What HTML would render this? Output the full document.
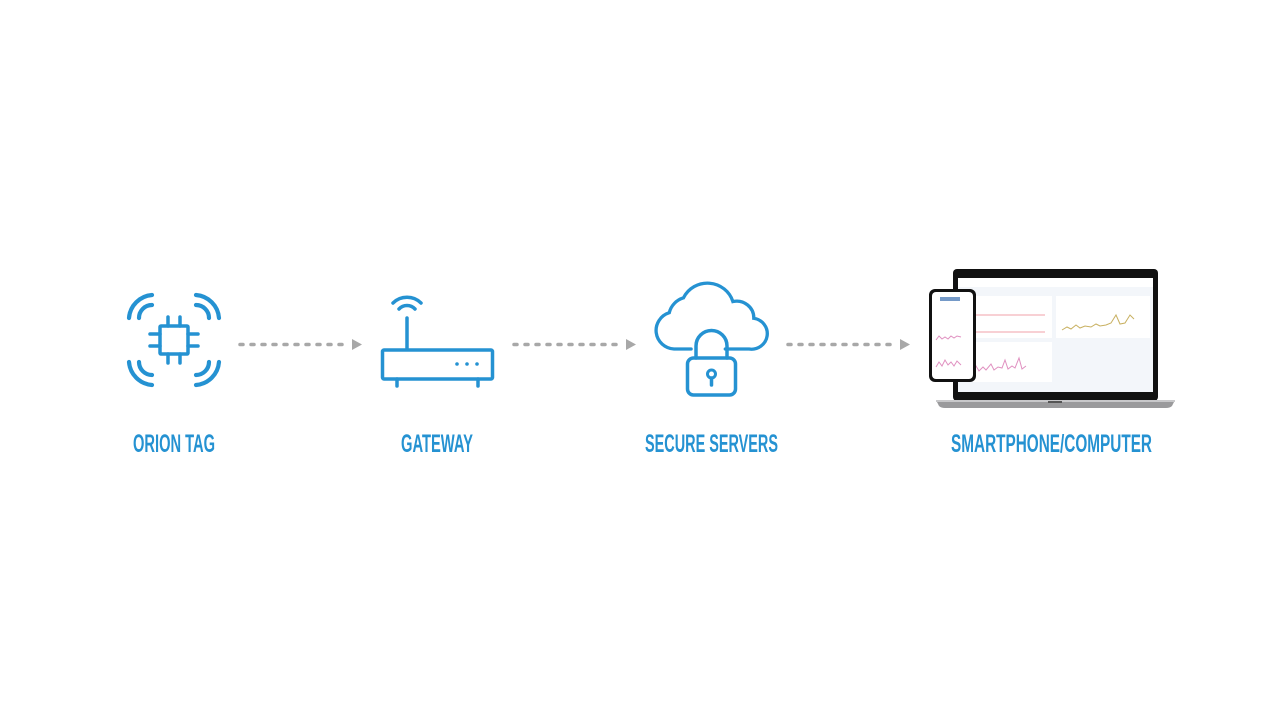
<!DOCTYPE html>
<html><head><meta charset="utf-8"><style>
html,body{margin:0;padding:0;background:#fff;width:1280px;height:720px;overflow:hidden}
text{font-family:"Liberation Sans Narrow","Liberation Sans",sans-serif;font-weight:bold;fill:#2592d2}
</style></head><body>
<svg width="1280" height="720" viewBox="0 0 1280 720" xmlns="http://www.w3.org/2000/svg">
<g fill="none" stroke="#2592d2" stroke-width="3.5" stroke-linecap="round">
  <!-- chip -->
  <rect x="160" y="326" width="28" height="28" rx="1"/>
  <path d="M168 326v-9M180 326v-9M168 354v9M180 354v9M160 334h-10M160 346h-10M188 334h10M188 346h10"/>
  <!-- arcs -->
  <g stroke-width="4.2">
  <path d="M129 318a25 25 0 0 1 23 -23M139 318a13 13 0 0 1 13 -13"/>
  <path d="M219 318a25 25 0 0 0 -23 -23M209 318a13 13 0 0 0 -13 -13"/>
  <path d="M129 362a25 25 0 0 0 23 23M139 362a13 13 0 0 0 13 13"/>
  <path d="M219 362a25 25 0 0 1 -23 23M209 362a13 13 0 0 1 -13 13"/>
  </g>
  <!-- router -->
  <rect x="382.5" y="350" width="110" height="29" rx="1.5"/>
  <path d="M407 349v-31M397 379v7M478 379v7"/>
  <path d="M393 303a20 20 0 0 1 28 0M399 309a11 11 0 0 1 16 0"/>
  <!-- cloud -->
  <path transform="translate(655,349) scale(.95,.93) translate(-655,-349)" d="M693 349h-18a20 20 0 0 1 -5 -39a22 22 0 0 1 15 -16a28 28 0 0 1 52 4a18 18 0 0 1 22 18a14 14 0 0 1 -5 33h-25"/>
  <rect x="687.5" y="358" width="48" height="37" rx="6"/>
  <path d="M696 358v-12a15.5 15.5 0 0 1 31 0v12"/>
  <circle cx="711.5" cy="374" r="4" stroke-width="3"/>
  <path d="M711.5 378v7"/>
</g>
<g fill="#2592d2">
  <circle cx="457" cy="364" r="1.8"/><circle cx="467" cy="364" r="1.8"/><circle cx="477" cy="364" r="1.8"/>
</g>
<!-- connectors -->
<g stroke="#a8a8a8" stroke-width="3.5" stroke-linecap="round" stroke-dasharray="3 8">
  <path d="M240 344.5h106"/><path d="M514 344.5h106"/><path d="M788 344.5h106"/>
</g>
<g fill="#a8a8a8">
  <path d="M352 339l10 5.5l-10 5.5z"/><path d="M626 339l10 5.5l-10 5.5z"/><path d="M900 339l10 5.5l-10 5.5z"/>
</g>
<!-- laptop -->
<rect x="953" y="269" width="205" height="132" rx="4" fill="#111"/>
<rect x="958" y="278" width="195" height="114" fill="#f3f6fa"/>
<rect x="958" y="278" width="195" height="9" fill="#fff"/>
<rect x="960" y="296" width="92" height="42" fill="#fff"/>
<rect x="1056" y="296" width="94" height="42" fill="#fff"/>
<rect x="960" y="342" width="92" height="40" fill="#fff"/>
<path d="M965 315h80M965 332h80" stroke="#f0a0a8" stroke-width="1"/>
<path d="M1062 330l5 -3l4 2l5 -4l4 3l5 -2l6 1l5 -3l4 2l6 -1l5 -2l5 -8l4 9l5 -1l5 -8l4 4" stroke="#c8b060" stroke-width="1" fill="none"/>
<path d="M965 375l4 -5l3 3l4 -7l3 5l4 -4l3 3l5 -6l3 6l4 -3l4 1l3 -8l3 9l4 -3l3 2l4 -10l3 11l4 -3" stroke="#e090c0" stroke-width="1" fill="none"/>
<path d="M936 400h239l-3 6q-2 2 -6 2h-221q-4 0 -6 -2z" fill="#9a9a9c"/>
<path d="M936 400h239v2h-239z" fill="#c8c8ca"/>
<rect x="1048" y="401" width="14" height="2" fill="#555"/>
<!-- phone -->
<rect x="929" y="289" width="47" height="93" rx="6" fill="#111"/>
<rect x="932" y="292" width="41" height="87" rx="4" fill="#fff"/>
<rect x="940" y="297" width="20" height="4" fill="#3a6fb0" opacity=".7"/>
<path d="M936 340l3 -4l3 3l3 -2l3 2l3 -3l3 2l3 -2l4 1M936 367l3 -5l3 4l3 -6l3 5l3 -3l3 4l3 -5l4 4" stroke="#e090c0" stroke-width="1" fill="none"/>
<!-- labels -->
<text x="133" y="452" font-size="25" textLength="82" lengthAdjust="spacingAndGlyphs">ORION TAG</text>
<text x="401" y="452" font-size="25" textLength="72" lengthAdjust="spacingAndGlyphs">GATEWAY</text>
<text x="645" y="452" font-size="25" textLength="133" lengthAdjust="spacingAndGlyphs">SECURE SERVERS</text>
<text x="951" y="452" font-size="25" textLength="201" lengthAdjust="spacingAndGlyphs">SMARTPHONE/COMPUTER</text>
</svg>
</body></html>
